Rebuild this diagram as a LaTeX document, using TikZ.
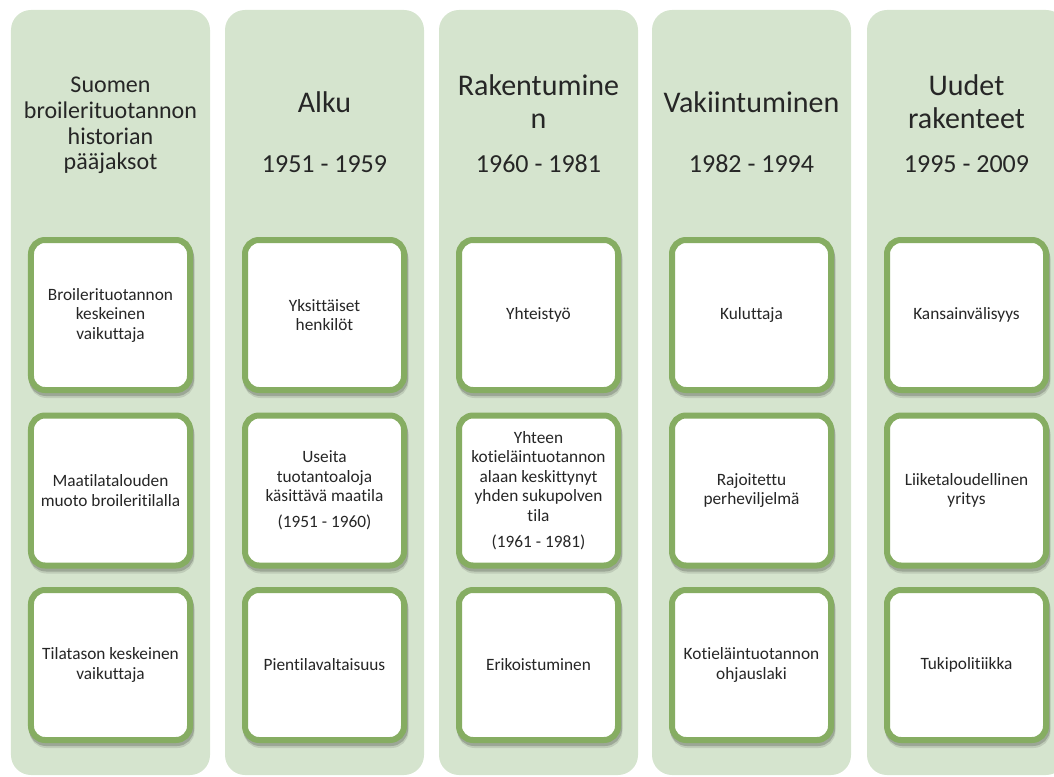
\documentclass[tikz,border=0pt]{standalone}
\usepackage{fontspec}
\setmainfont{Carlito}[Ligatures=NoCommon]
\definecolor{colfill}{HTML}{D5E4CE}
\definecolor{boxline}{HTML}{86AD62}
\definecolor{txt}{HTML}{262626}
\begin{document}
\begin{tikzpicture}[x=1bp,y=-1bp,
  colbox/.style={fill=colfill, rounded corners=20bp, minimum width=199bp, minimum height=765bp, inner sep=0pt},
  ttl/.style={anchor=base, text=txt, inner sep=0pt, font=\fontsize{30bp}{33bp}\selectfont},
  ttlsmall/.style={anchor=base, text=txt, inner sep=0pt, font=\fontsize{24bp}{26bp}\selectfont},
  years/.style={anchor=base, text=txt, inner sep=0pt, font=\fontsize{26bp}{29bp}\selectfont},
  itembox/.style={draw=boxline, line width=6bp, fill=white, rounded corners=14bp,
    minimum width=159bp, minimum height=150bp, inner sep=0pt, align=center, text=txt,
    font=\fontsize{17.3bp}{19.5bp}\selectfont,
    preaction={draw=black, draw opacity=0.10, line width=6bp, transform canvas={xshift=1.5bp,yshift=-5bp}},
    preaction={draw=black, draw opacity=0.18, line width=6bp, transform canvas={xshift=1bp,yshift=-3bp}}}
]
\useasboundingbox (0,0) rectangle (1054,777);
\clip (0,0) rectangle (1054,777);
% columns
\node[colbox] (c1) at (110.5,392.5) {};
\node[colbox] (c2) at (324.5,392.5) {};
\node[colbox] (c3) at (538.5,392.5) {};
\node[colbox] (c4) at (751.5,392.5) {};
\node[colbox] (c5) at (966.5,392.5) {};
% titles
\node[ttlsmall] (t1a) at (110.5,93) {Suomen};
\node[ttlsmall] (t1b) at (110.5,118.5) {broilerituotannon};
\node[ttlsmall] (t1c) at (110.5,144) {historian};
\node[ttlsmall] (t1d) at (110.5,169.5) {pääjaksot};
\node[ttl] (t2a) at (324.5,112) {Alku};
\node[years] (y2) at (324.5,172) {1951 - 1959};
\node[ttl] (t3a) at (538.5,96) {Rakentumine};
\node[ttl] (t3b) at (538.5,128) {n};
\node[years] (y3) at (538.5,172) {1960 - 1981};
\node[ttl] (t4a) at (751.5,112) {Vakiintuminen};
\node[years] (y4) at (751.5,172) {1982 - 1994};
\node[ttl] (t5a) at (966.5,96) {Uudet};
\node[ttl] (t5b) at (966.5,128) {rakenteet};
\node[years] (y5) at (966.5,172) {1995 - 2009};
% boxes
\node[itembox] (b11) at (110.5,315) {Broilerituotannon\\keskeinen\\vaikuttaja};
\node[itembox] (b12) at (110.5,490.5) {Maatilatalouden\\muoto broileritilalla};
\node[itembox] (b13) at (110.5,665) {Tilatason keskeinen\\vaikuttaja};
\node[itembox] (b21) at (324.5,315) {Yksittäiset\\henkilöt};
\node[itembox] (b22) at (324.5,490.5) {Useita\\tuotantoaloja\\käsittävä maatila\\[6.5bp](1951 - 1960)};
\node[itembox] (b23) at (324.5,665) {Pientilavaltaisuus};
\node[itembox] (b31) at (538.5,315) {Yhteistyö};
\node[itembox] (b32) at (538.5,490.5) {Yhteen\\kotieläintuotannon\\alaan keskittynyt\\yhden sukupolven\\tila\\[6.5bp](1961 - 1981)};
\node[itembox] (b33) at (538.5,665) {Erikoistuminen};
\node[itembox] (b41) at (751.5,315) {Kuluttaja};
\node[itembox] (b42) at (751.5,490.5) {Rajoitettu\\perheviljelmä};
\node[itembox] (b43) at (751.5,665) {Kotieläintuotannon\\ohjauslaki};
\node[itembox] (b51) at (966.5,315) {Kansainvälisyys};
\node[itembox] (b52) at (966.5,490.5) {Liiketaloudellinen\\yritys};
\node[itembox] (b53) at (966.5,665) {Tukipolitiikka};
\end{tikzpicture}
\end{document}
